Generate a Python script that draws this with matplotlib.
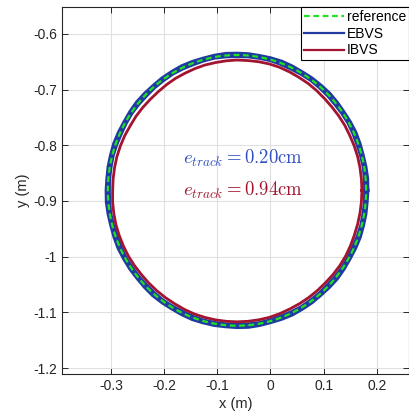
"""Circular trajectory tracking: reference vs EBVS vs IBVS."""

import matplotlib
matplotlib.use("Agg")
import matplotlib.pyplot as plt
import numpy as np

# circle (metres)
center_x = -0.063
center_y = -0.881
ref_radius = 0.243

# radius read every 5 deg, from angle 0 (right side), counter-clockwise
step_deg = 5
ebvs_radius_lap1 = [
    0.246, 0.2465, 0.246, 0.2455, 0.246, 0.2465, 0.246, 0.2455, 0.246,
    0.2465, 0.246, 0.246, 0.2455, 0.246, 0.2465, 0.246, 0.2455, 0.246,
    0.246, 0.2465, 0.246, 0.2455, 0.246, 0.2465, 0.246, 0.246, 0.2455,
    0.246, 0.2465, 0.246, 0.2455, 0.246, 0.2465, 0.246, 0.246, 0.2455,
    0.246, 0.2465, 0.246, 0.2455, 0.246, 0.2465, 0.246, 0.246, 0.2455,
    0.246, 0.2465, 0.246, 0.2455, 0.246, 0.2465, 0.246, 0.246, 0.2455,
    0.246, 0.2465, 0.246, 0.2455, 0.246, 0.2465, 0.246, 0.246, 0.2455,
    0.246, 0.2465, 0.246, 0.2455, 0.246, 0.2465, 0.246, 0.246, 0.2455,
]
ebvs_radius_lap2 = [
    0.2405, 0.241, 0.2415, 0.241, 0.2405, 0.241, 0.2415, 0.241, 0.2405,
    0.241, 0.241, 0.2415, 0.241, 0.2405, 0.241, 0.2415, 0.241, 0.241,
    0.2405, 0.241, 0.2415, 0.241, 0.2405, 0.241, 0.2415, 0.241, 0.241,
    0.2405, 0.241, 0.2415, 0.241, 0.2405, 0.241, 0.2415, 0.241, 0.241,
    0.2405, 0.241, 0.2415, 0.241, 0.2405, 0.241, 0.2415, 0.241, 0.241,
    0.2405, 0.241, 0.2415, 0.241, 0.2405, 0.241, 0.2415, 0.241, 0.241,
    0.2405, 0.241, 0.2415, 0.241, 0.2405, 0.241, 0.2415, 0.241, 0.241,
    0.2405, 0.241, 0.2415, 0.241, 0.2405, 0.241, 0.2415, 0.241, 0.241,
]
ibvs_radius = [
    0.235, 0.235, 0.235, 0.235, 0.2345, 0.234, 0.234, 0.2335, 0.233,
    0.233, 0.2335, 0.234, 0.234, 0.2345, 0.235, 0.235, 0.2345, 0.234,
    0.234, 0.2335, 0.233, 0.233, 0.2325, 0.232, 0.232, 0.2315, 0.231,
    0.231, 0.2315, 0.232, 0.232, 0.233, 0.2335, 0.234, 0.234, 0.234,
    0.234, 0.235, 0.2355, 0.236, 0.236, 0.236, 0.236, 0.2355, 0.235,
    0.235, 0.235, 0.235, 0.235, 0.2355, 0.236, 0.236, 0.236, 0.236,
    0.236, 0.236, 0.236, 0.236, 0.2355, 0.235, 0.235, 0.235, 0.235,
    0.235, 0.2355, 0.236, 0.236, 0.2355, 0.235, 0.235, 0.235, 0.235,
]

e_track_ebvs = 0.20
e_track_ibvs = 0.94

x_ticks = [-0.3, -0.2, -0.1, 0, 0.1, 0.2]
y_ticks = [-1.2, -1.1, -1, -0.9, -0.8, -0.7, -0.6]

blue = "#1f3aa0"
red = "#a2142f"
green = "#22e022"


def _closed_xy(radii):
    theta = np.deg2rad(np.arange(len(radii) + 1) * step_deg)
    r = np.asarray(radii + radii[:1])
    return center_x + r * np.cos(theta), center_y + r * np.sin(theta)


plt.rcParams["font.family"] = ["Liberation Sans", "DejaVu Sans"]
plt.rcParams["mathtext.fontset"] = "cm"

fig = plt.figure(figsize=(4.10, 4.19), dpi=100)
ax = fig.add_axes([0.151, 0.107, 0.847, 0.876])

theta_ref = np.deg2rad(np.arange(0, 361, 2))
ref_x = center_x + ref_radius * np.cos(theta_ref)
ref_y = center_y + ref_radius * np.sin(theta_ref)

x1, y1 = _closed_xy(ebvs_radius_lap1)
x2, y2 = _closed_xy(ebvs_radius_lap2)
xi, yi = _closed_xy(ibvs_radius)

ax.plot(x1, y1, color=blue, lw=2.4, zorder=3)
ax.plot(x2, y2, color=blue, lw=2.4, zorder=3)
ax.plot(xi, yi, color=red, lw=2.0, zorder=4)
ax.plot(ref_x, ref_y, color=green, lw=1.6, dashes=(2.6, 1.6), zorder=5)

# legend proxies
ax.plot([], [], color=green, lw=1.6, dashes=(2.6, 1.6), label="reference")
ax.plot([], [], color=blue, lw=1.6, label="EBVS")
ax.plot([], [], color=red, lw=1.6, label="IBVS")
handles, labels = ax.get_legend_handles_labels()
leg = ax.legend(handles[-3:], labels[-3:], loc="upper right", fontsize=10,
                frameon=True, fancybox=False, edgecolor="black",
                borderaxespad=0.0, handlelength=2.9, handletextpad=0.2,
                borderpad=0.2, labelspacing=0.2)
leg.get_frame().set_linewidth(0.8)
leg.get_frame().set_alpha(1)

ax.text(-0.051, -0.823, rf"$e_{{track}} = {e_track_ebvs:.2f}\mathrm{{cm}}$",
        color="#3050c0", fontsize=13.5, ha="center", va="center")
ax.text(-0.051, -0.881, rf"$e_{{track}} = {e_track_ibvs:.2f}\mathrm{{cm}}$",
        color=red, fontsize=13.5, ha="center", va="center")

ax.set_xlim(-0.3925, 0.261)
ax.set_ylim(-1.211, -0.552)
ax.set_xticks(x_ticks)
ax.set_xticklabels(["-0.3", "-0.2", "-0.1", "0", "0.1", "0.2"])
ax.set_yticks(y_ticks)
ax.set_yticklabels(["-1.2", "-1.1", "-1", "-0.9", "-0.8", "-0.7", "-0.6"])
ax.tick_params(direction="in", top=True, right=True, labelsize=10,
               length=4, width=0.7, colors="#262626")
ax.grid(True, color="#e0e0e0", lw=0.8)
ax.set_axisbelow(True)
for side in ax.spines.values():
    side.set_color("#262626")
    side.set_linewidth(0.8)
ax.set_xlabel("x (m)", fontsize=10.5, color="#262626", labelpad=3)
ax.set_ylabel("y (m)", fontsize=10.5, color="#262626", labelpad=2)

fig.savefig("out.png", dpi=100)
